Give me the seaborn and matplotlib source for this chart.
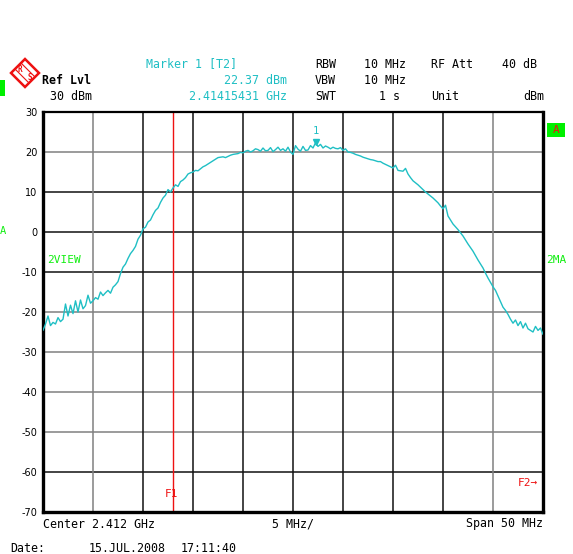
import numpy as np
import pandas as pd
import matplotlib
matplotlib.use("Agg")
import matplotlib.pyplot as plt
from matplotlib.patches import Polygon, Rectangle
import seaborn as sns

sns.set_style("white")
plt.rcParams["font.family"] = ["DejaVu Sans Mono", "DejaVu Sans"]

# trace: offset from center (MHz) and level (dBm), 0.25 MHz steps
offset_mhz = np.arange(-25, 25.001, 0.25)
level_dbm = [
    -24.6, -23.0, -21.0, -23.4, -22.6, -23.0, -21.4, -22.4, -21.8, -18.0,
    -21.0, -18.3, -20.4, -17.2, -20.0, -17.0, -19.2, -18.4, -15.8, -17.8,
    -17.2, -16.4, -16.8, -15.0, -15.9, -15.2, -14.6, -15.3, -13.8, -13.2,
    -12.4, -10.4, -8.8, -8.0, -6.6, -5.4, -4.6, -3.6, -1.8, -0.8,
    0.8, 1.2, 2.5, 3.0, 4.3, 5.4, 6.0, 7.4, 8.5, 9.2,
    10.6, 10.0, 11.0, 11.8, 11.4, 12.6, 13.0, 13.6, 14.5, 14.8,
    15.0, 15.4, 15.3, 15.8, 16.3, 16.6, 17.0, 17.4, 17.8, 18.2,
    18.6, 18.7, 18.8, 18.6, 18.9, 19.2, 19.4, 19.5, 19.6, 19.9,
    19.8, 20.2, 20.4, 20.0, 20.3, 20.8, 20.6, 20.2, 21.0, 20.3,
    20.4, 21.1, 20.1, 20.6, 21.2, 20.4, 20.8, 20.2, 21.2, 20.0,
    19.4, 21.6, 20.7, 20.2, 21.4, 20.4, 20.5, 21.6, 21.0, 22.3,
    21.4, 21.9, 21.0, 21.5, 21.2, 20.8, 21.2, 20.9, 20.8, 21.1,
    20.4, 20.8, 20.0, 19.9, 19.7, 19.4, 19.2, 19.0, 18.7, 18.5,
    18.3, 18.1, 18.0, 17.8, 17.6, 17.6, 17.2, 16.9, 16.6, 16.3,
    16.0, 16.7, 15.4, 15.3, 15.2, 15.9, 14.5, 13.6, 12.8, 12.3,
    11.8, 11.2, 10.6, 10.0, 9.5, 9.0, 8.5, 7.9, 7.3, 6.5,
    5.8, 6.7, 4.0, 3.0, 2.0, 1.3, 0.6, -0.2, -1.0, -2.0,
    -3.0, -3.9, -4.8, -5.9, -7.0, -8.0, -9.0, -10.3, -11.5, -12.6,
    -13.7, -14.6, -16.0, -17.4, -18.8, -19.6, -20.6, -21.8, -22.8, -22.0,
    -23.4, -22.4, -24.0, -22.8, -24.2, -24.6, -25.0, -23.6, -24.6, -24.0,
    -25.6,
]
df = pd.DataFrame({"offset": offset_mhz, "level": level_dbm})

y_ticks = [30, 20, 10, 0, -10, -20, -30, -40, -50, -60, -70]
f1_offset = -12.0      # F1 = 2.400 GHz
marker_offset = 2.25   # marker 1 at 2.41415431 GHz
marker_level = 22.37

W, H = 573, 554
fig = plt.figure(figsize=(W / 100, H / 100), dpi=100)
ax = fig.add_axes([43 / W, 1 - 512 / H, 500 / W, 400 / H])

cyan = "#1fbfc4"
green = "#11ee11"
red = "#ee1111"

# grid, a few lines lighter as on the screen
for v in y_ticks[1:-1]:
    col = "#808080" if v in (20, -20, -30, -40, -50) else "#111111"
    ax.axhline(v, color=col, lw=1.1, zorder=1)
for v in np.arange(-20, 21, 5):
    col = "#808080" if v in (-20, 20) else "#111111"
    ax.axvline(v, color=col, lw=1.1, zorder=1)

ax.axvline(f1_offset, color=red, lw=1.0, zorder=2)

sns.lineplot(data=df, x="offset", y="level", color=cyan, lw=1.0, ax=ax, zorder=3)

# marker 1
ax.plot([marker_offset], [marker_level + 0.2], marker="v", color=cyan, ms=5, zorder=4)
ax.text(marker_offset, marker_level + 2.8, "1", color=cyan, fontsize=7.5,
        ha="center", va="center")

ax.set_xlim(-25, 25)
ax.set_ylim(-70, 30)
ax.set_xticks([])
ax.set_yticks(y_ticks)
ax.set_yticklabels([str(t) for t in y_ticks], family="DejaVu Sans", fontsize=7)
ax.tick_params(axis="y", length=3, width=1, pad=1, colors="black")
ax.set_xlabel("")
ax.set_ylabel("")
for s in ["left", "right", "bottom"]:
    ax.spines[s].set_linewidth(2.4)
    ax.spines[s].set_color("black")
ax.spines["top"].set_linewidth(1.6)
ax.spines["top"].set_color("black")


def px(x, y):
    return x / W, 1 - y / H


def label(x, y, s, color="black", ha="left", size=8.4, weight="normal"):
    fig.text(*px(x, y), s, color=color, ha=ha, va="center", fontsize=size,
             fontweight=weight)


# header
label(146, 64, "Marker 1 [T2]", cyan)
label(42, 80, "Ref Lvl", weight="bold")
label(50, 96, "30 dBm")
label(287, 80, "22.37 dBm", cyan, ha="right")
label(287, 96, "2.41415431 GHz", cyan, ha="right")
label(315, 64, "RBW")
label(315, 80, "VBW")
label(315, 96, "SWT")
label(364, 64, "10 MHz")
label(364, 80, "10 MHz")
label(400, 96, "1 s", ha="right")
label(431, 64, "RF Att")
label(431, 96, "Unit")
label(537, 64, "40 dB", ha="right")
label(544, 96, "dBm", ha="right")

# side annotations
label(0, 231, "A", green, size=7.5)
label(47, 260, "2VIEW", green, size=8)
label(546, 260, "2MA", green, size=8)
fig.patches.append(Rectangle(px(547, 137), 18 / W, 14 / H, transform=fig.transFigure,
                             facecolor="#00f000", edgecolor="none"))
label(556, 130, "A", red, ha="center", size=8)
fig.patches.append(Rectangle(px(0, 96), 5 / W, 16 / H, transform=fig.transFigure,
                             facecolor="#00f000", edgecolor="none"))
label(165, 494, "F1", red, size=8)
label(518, 483, "F2\u2192", red, size=8)

# R&S logo
cx, cy, r = 25, 73, 14
diamond = [px(cx, cy - r), px(cx + r, cy), px(cx, cy + r), px(cx - r, cy)]
fig.patches.append(Polygon(diamond, closed=True, transform=fig.transFigure,
                           facecolor="white", edgecolor=red, lw=1.8))
for d in (-3, 3):
    a, b = px(cx - 7 + d, cy - 7 - d), px(cx + 7 + d, cy + 7 - d)
    fig.lines.append(plt.Line2D([a[0], b[0]], [a[1], b[1]],
                                transform=fig.transFigure, color=red, lw=0.8))
label(cx - 5, cy - 4, "R", red, ha="center", size=5.5, weight="bold")
label(cx + 5, cy + 4, "S", red, ha="center", size=5.5, weight="bold")

# footer
label(43, 524, "Center 2.412 GHz")
label(293, 524, "5 MHz/", ha="center")
label(543, 524, "Span 50 MHz", ha="right")
label(10, 548, "Date:")
label(89, 548, "15.JUL.2008")
label(181, 548, "17:11:40")

fig.savefig("out.png", dpi=100)
